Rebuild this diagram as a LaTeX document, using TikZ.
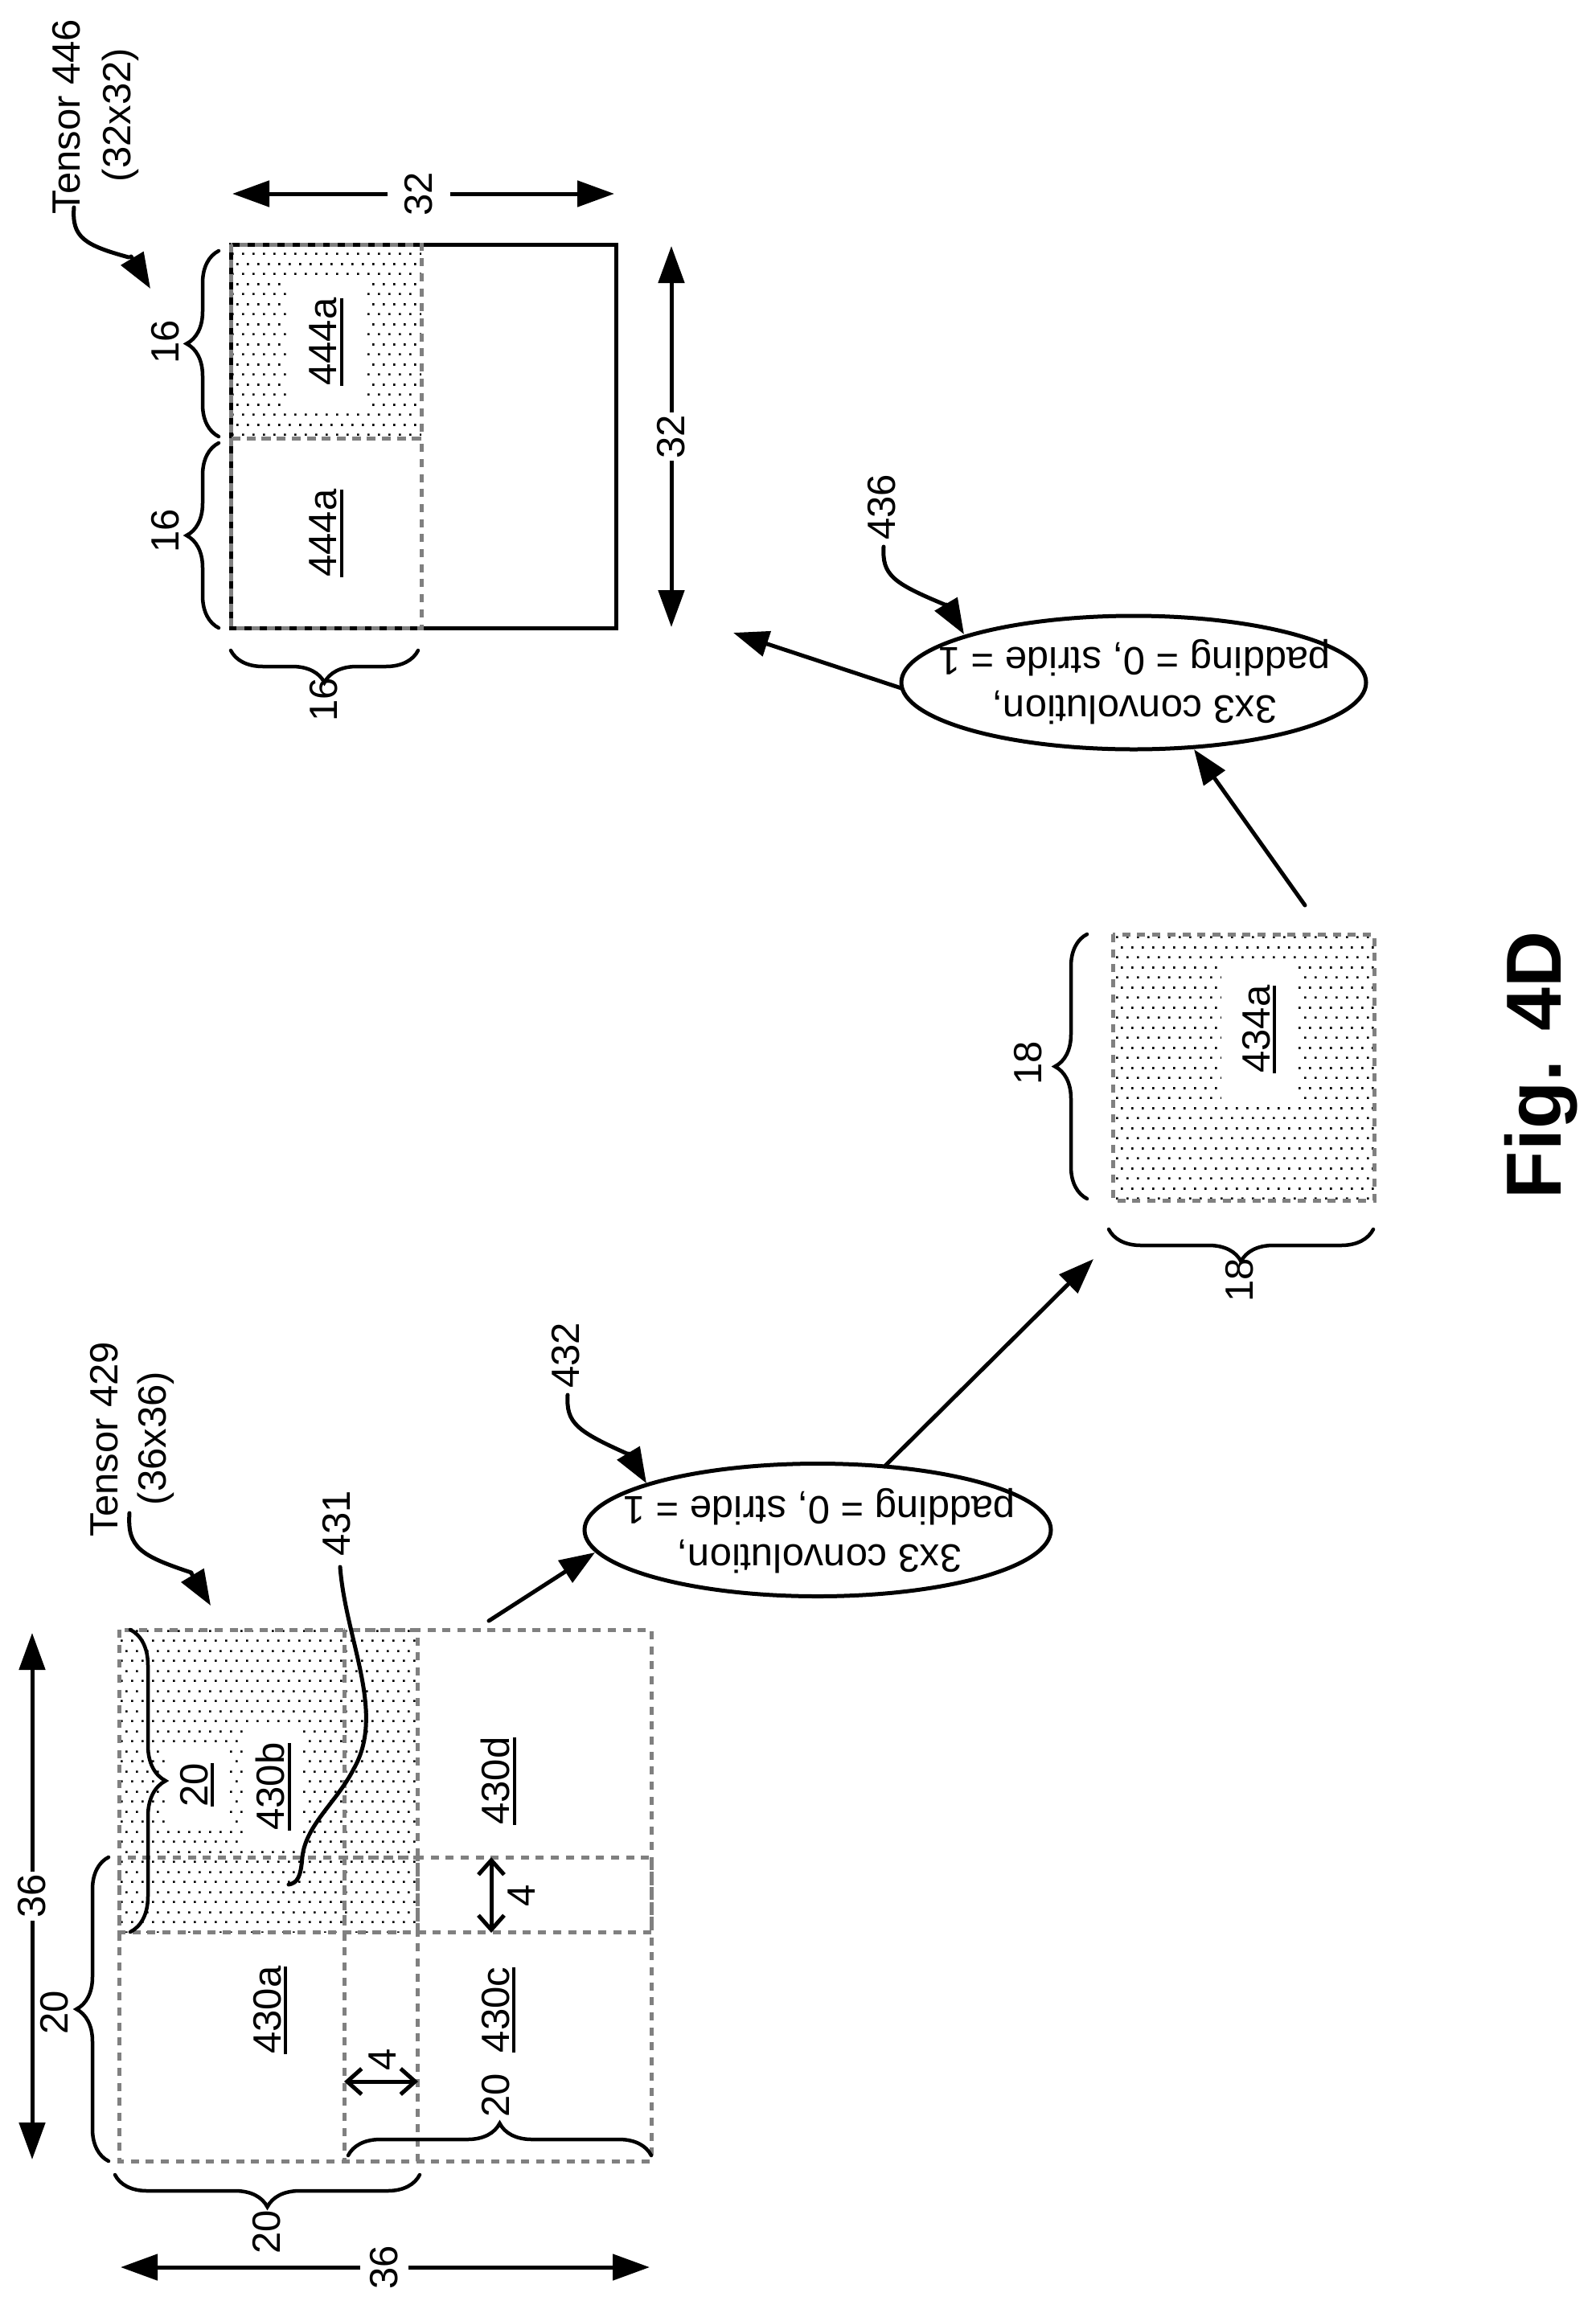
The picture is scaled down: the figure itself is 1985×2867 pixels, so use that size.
\documentclass[tikz,border=0pt]{standalone}
\usepackage{fontspec}
\setmainfont{Liberation Sans}
\usetikzlibrary{arrows.meta,shapes.geometric,decorations.pathreplacing,patterns}
\pgfdeclarepatternformonly{stagdots}{\pgfpointorigin}{\pgfqpoint{12.5pt}{25pt}}{\pgfqpoint{12.5pt}{25pt}}{%
  \pgfpathrectangle{\pgfqpoint{0pt}{0pt}}{\pgfqpoint{2.8pt}{2.8pt}}%
  \pgfpathrectangle{\pgfqpoint{6.25pt}{12.5pt}}{\pgfqpoint{2.8pt}{2.8pt}}%
  \pgfusepath{fill}}
\newcommand{\ulbl}[1]{\setbox0\hbox{#1}\rlap{\rule[-8pt]{\wd0}{3.8pt}}\box0}
\tikzset{
  x=1pt,y=-1pt,
  txt/.style={inner sep=0pt,font=\fontsize{49}{54}\selectfont,rotate=90},
  ktxt/.style={txt,fill=white,inner sep=3pt},
  ko/.style={txt,fill=white,minimum width=#1},
  dbox/.style={draw=black!50,line width=5pt,dash pattern=on 10pt off 8.7pt,inner sep=0pt},
  shaded/.style={pattern=stagdots,pattern color=black},
  brc/.style={draw,line width=4.5pt,line cap=round,decorate,decoration={brace,amplitude=#1}},
  brc/.default=40pt,
  dim/.style={line width=5pt,{Triangle[length=46pt,width=32pt]}-{Triangle[length=46pt,width=32pt]}},
  flow/.style={line width=5pt,line cap=round,-{Triangle[length=44pt,width=32pt]}},
  lead/.style={line width=5pt,line cap=round},
  thin/.style={line width=5pt,{Straight Barb[length=18pt,width=32pt]}-{Straight Barb[length=18pt,width=32pt]}},
  oval/.style={draw,ellipse,line width=5pt,inner sep=0pt},
  ovaltxt/.style={inner sep=0pt,align=center,font=\fontsize{49}{60}\selectfont,rotate=180},
}
\begin{document}
\begin{tikzpicture}
\useasboundingbox (0,0) rectangle (1985,2867);
% tensor 446
\node[draw,line width=5pt,minimum width=479pt,minimum height=477pt,inner sep=0pt] (t446) at (526.5,542.5) {};
\fill[shaded] (287,304) rectangle (524,545);
\node[ko=161pt,minimum height=94pt] (l444u) at (406,425) {\ulbl{444a}};
\node[txt] (l444l) at (406,663) {\ulbl{444a}};
\draw[dbox] (287,304) rectangle (524,545);
\draw[dbox] (287,545) rectangle (524,781);
\node[txt] (tn446) at (83,145) {Tensor 446};
\node[txt] (ts446) at (150,143) {(32x32)};
\coordinate (a446s) at (92,258); \coordinate (a446b) at (160,320); \coordinate (a446c) at (163,319); \coordinate (a446t) at (187,359);
\draw[lead] (a446s) .. controls (89,295) and (105,305) .. (a446b);
\draw[flow] (a446c) -- (a446t);
\coordinate (d1a) at (289,241); \coordinate (d1b) at (764,241);
\draw[dim] (d1a) -- (d1b);
\node[txt,fill=white,minimum height=78pt] (d1l) at (521,241) {32};
\coordinate (d2a) at (835,306); \coordinate (d2b) at (835,780);
\draw[dim] (d2a) -- node[ktxt] (d2l) {32} (d2b);
\draw[brc] (272,543) -- (272,312);
\node[txt] (b16a) at (206,425) {16};
\draw[brc] (272,781) -- (272,551);
\node[txt] (b16b) at (206,660) {16};
\draw[brc] (520,809) -- (287,809);
\node[txt] (b16c) at (403,870) {16};
% tensor 429
\fill[shaded] (148,2027) rectangle (519,2403);
\node[ko=100pt,minimum height=75pt] (l20) at (245,2220) {\ulbl{20}};
\node[ko=155pt,minimum height=74pt] (l430b) at (340,2222) {\ulbl{430b}};
\draw[dbox] (148,2310) rectangle (519,2688);
\draw[dbox] (148,2027) rectangle (519,2403);
\draw[dbox] (428,2310) rectangle (810,2688);
\draw[dbox] (428,2027) rectangle (810,2403);
\node[txt] (l430a) at (336,2500) {\ulbl{430a}};
\node[txt] (l430c) at (620,2500) {\ulbl{430c}};
\node[txt] (l430d) at (620,2215) {\ulbl{430d}};
\node[txt] (tn429) at (129.5,1790) {Tensor 429};
\node[txt] (ts429) at (194,1789) {(36x36)};
\coordinate (a429s) at (161,1882); \coordinate (a429b) at (238,1956); \coordinate (a429c) at (238,1957); \coordinate (a429t) at (262,1997);
\draw[lead] (a429s) .. controls (158,1925) and (175,1935) .. (a429b);
\draw[flow] (a429c) -- (a429t);
\node[txt] (l431) at (419,1895) {431};
\coordinate (a431s) at (423,1949); \coordinate (a431e) at (359,2344);
\draw[line width=5pt,line cap=round] (a431s) .. controls (430,2040) and (480,2130) .. (440,2200) .. controls (420,2240) and (380,2270) .. (376,2310) .. controls (374,2335) and (370,2342) .. (a431e);
\coordinate (d3a) at (40,2031); \coordinate (d3b) at (40,2686);
\draw[dim] (d3b) -- node[ktxt] (d3l) {36} (d3a);
\coordinate (d4a) at (150,2820); \coordinate (d4b) at (808,2820);
\draw[dim] (d4a) -- (d4b);
\node[txt,fill=white,minimum height=60pt] (d4l) at (478,2820) {36};
\draw[brc] (135,2688) -- (135,2310);
\node[txt] (b20a) at (68,2503) {20};
\draw[brc=44pt] (162,2027) -- (162,2403);
\draw[brc] (522,2705) -- (143,2705);
\node[txt] (b20c) at (332,2776) {20};
\draw[brc] (433,2681) -- (810,2681);
\node[txt] (b20d) at (617,2606) {20};
\coordinate (h4a) at (428,2589); \coordinate (h4b) at (520,2589);
\draw[thin] (h4a) -- (h4b);
\node[txt] (l4a) at (476,2562) {4};
\coordinate (v4a) at (611,2310); \coordinate (v4b) at (611,2404);
\draw[thin] (v4a) -- (v4b);
\node[txt] (l4b) at (649,2358) {4};
% ellipse 432
\node[oval,minimum width=580pt,minimum height=165pt] (e432) at (1017,1903) {};
\node[ovaltxt] (e432t) at (1019,1904) {3x3 convolution,\\padding = 0, stride = 1};
\node[txt] (l432) at (704,1686) {432};
\coordinate (a432s) at (706,1735); \coordinate (a432b) at (782,1809); \coordinate (a432c) at (782,1808); \coordinate (a432t) at (804,1845);
\draw[lead] (a432s) .. controls (704,1770) and (717,1780) .. (a432b);
\draw[flow] (a432c) -- (a432t);
\coordinate (f1s) at (608,2016); \coordinate (f1t) at (740,1931);
\draw[flow] (f1s) -- (f1t);
% 434a
\fill[shaded] (1384,1162) rectangle (1709,1493);
\node[ko=175pt,minimum height=95pt] (l434) at (1566,1280) {\ulbl{434a}};
\draw[dbox] (1384,1162) rectangle (1709,1493);
\draw[brc] (1352,1491) -- (1352,1162);
\node[txt] (b18a) at (1279,1322) {18};
\draw[brc] (1708,1529) -- (1379,1529);
\node[txt] (b18b) at (1542,1592) {18};
\coordinate (f2s) at (1100,1824); \coordinate (f2t) at (1360,1566);
\draw[flow] (f2s) -- (f2t);
% ellipse 436
\node[oval,minimum width=578pt,minimum height=166pt] (e436) at (1410,849) {};
\node[ovaltxt] (e436t) at (1411,848) {3x3 convolution,\\padding = 0, stride = 1};
\node[txt] (l436) at (1097,631) {436};
\coordinate (a436s) at (1099,680); \coordinate (a436b) at (1175,752); \coordinate (a436c) at (1177,752); \coordinate (a436t) at (1199,789);
\draw[lead] (a436s) .. controls (1097,715) and (1110,725) .. (a436b);
\draw[flow] (a436c) -- (a436t);
\coordinate (f3s) at (1623,1126); \coordinate (f3t) at (1485,932);
\draw[flow] (f3s) -- (f3t);
\coordinate (f4s) at (1121,856); \coordinate (f4t) at (912,787);
\draw[flow] (f4s) -- (f4t);
\node[inner sep=0pt,rotate=90,font=\fontsize{97}{100}\selectfont\bfseries] (fig) at (1917,1325) {Fig. 4D};
\end{tikzpicture}
\end{document}
